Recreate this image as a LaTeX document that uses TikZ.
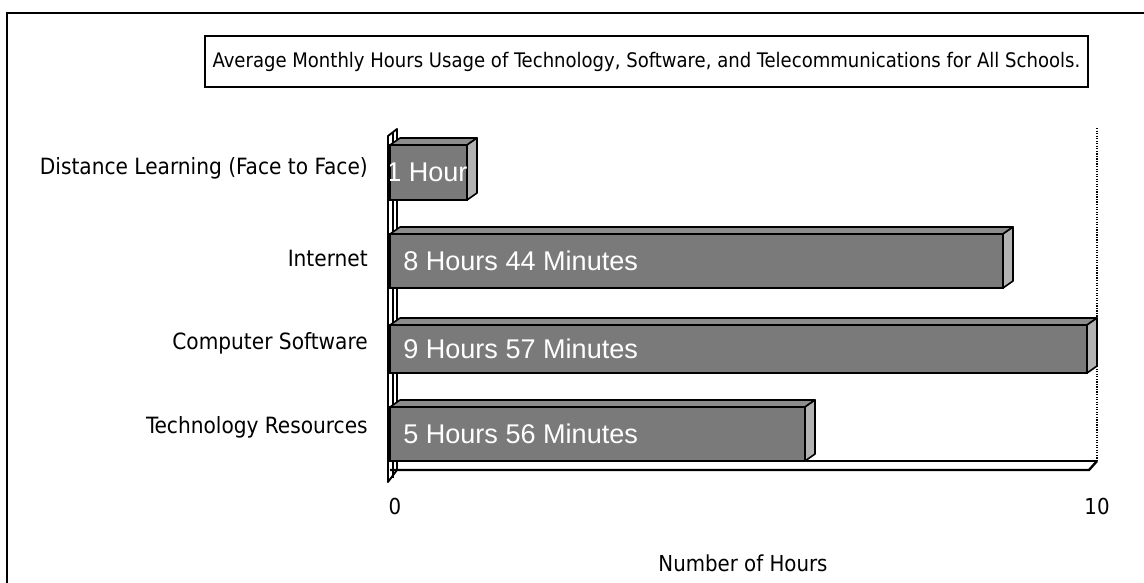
\documentclass[tikz,border=0pt]{standalone}
\usepackage{fontspec}
\setmainfont{Liberation Sans}
\newfontfamily\condfont{DejaVu Sans Condensed}
\usetikzlibrary{calc}
\tikzset{
  frame/.style={line width=2.2pt, line cap=rect},
  titlebox/.style={draw, line width=1.5pt, inner sep=0pt, outer sep=0pt},
  barfront/.style={draw, line width=1.6pt, fill=black!52, inner sep=0pt, outer sep=0pt, rectangle, anchor=north west},
  bartop/.style={draw, line width=1.2pt, fill=black!45, line join=round},
  barside/.style={draw, line width=1.2pt, fill=black!30, line join=round},
  wall/.style={draw, line width=1.4pt, fill=white, line join=round},
  catlab/.style={anchor=east, inner sep=0pt, font=\condfont\fontsize{16.8pt}{18pt}\selectfont},
  inlab/.style={anchor=west, inner sep=0pt, text=white, font=\fontsize{20.3pt}{22pt}\selectfont},
  axlab/.style={inner sep=0pt, font=\condfont\fontsize{16.5pt}{18pt}\selectfont},
  grid/.style={densely dotted, line width=0.9pt},
}
% one bar: name, left x, top y, width, height, label x-offset, label
\newcommand\drawbar[7]{%
  \node[barfront, minimum width=#4*0.75pt, minimum height=#5*0.75pt] (#1) at (#2,#3) {};
  \filldraw[bartop] (#1.north west) -- ++(10,-7) -- ($(#1.north east)+(10,-7)$) -- (#1.north east) -- cycle;
  \filldraw[barside] (#1.north east) -- ($(#1.north east)+(10,-7)$) -- ($(#1.south east)+(10,-7)$) -- (#1.south east) -- cycle;
  \begin{scope}
    \clip (#1.north west) rectangle (#1.south east);
    \node[inlab] (#1l) at ($(#1.west)+(#6,0)$) {#7};
  \end{scope}
}
\begin{document}
\begin{tikzpicture}[x=0.75pt, y=-0.75pt]
  \useasboundingbox (0,0) rectangle (1144,582);
  % outer frame (runs off to the right and bottom)
  \draw[frame] (7,590) -- (7,13) -- (1150,13);
  % title
  \node[titlebox, minimum width=883*0.75pt, minimum height=51*0.75pt, anchor=north west] (title) at (205,36) {};
  \node[inner sep=0pt, font=\condfont\fontsize{15.05pt}{17pt}\selectfont] (titletext) at (title.center) {Average Monthly Hours Usage of Technology, Software, and Telecommunications for All Schools.};
  % chart walls and floor
  \coordinate (wtl) at (388,136);
  \coordinate (wtr) at (397,129);
  \coordinate (wbr) at (397,470);
  \coordinate (wbl) at (388,482);
  \filldraw[wall] (wtl) -- (wtr) -- (wbr) -- (wbl) -- cycle;
  \draw[line width=1pt] (393,132) -- (393,478);
  \coordinate (fl) at (397,461);
  \coordinate (fr) at (1097,461);
  \coordinate (ffl) at (390,470);
  \coordinate (ffr) at (1089,470);
  \draw[line width=1pt] (fl) -- (fr);
  \draw[line width=1.8pt] (ffl) -- (ffr) -- (fr);
  % grid line at 10 hours
  \coordinate (gt) at (1097,128);
  \draw[grid] (gt) -- (fr);
  % bars
  \drawbar{dl}{390}{145}{77}{55}{-4}{1 Hour}
  \drawbar{inet}{390}{234}{613}{54}{13}{8 Hours 44 Minutes}
  \drawbar{soft}{390}{325}{697}{48}{13}{9 Hours 57 Minutes}
  \drawbar{tech}{390}{407}{415}{54}{13}{5 Hours 56 Minutes}
  % category labels
  \node[catlab] (c1) at (368,168) {Distance Learning (Face to Face)};
  \node[catlab] (c2) at (368,258) {Internet};
  \node[catlab] (c3) at (368,343) {Computer Software};
  \node[catlab] (c4) at (368,427) {Technology Resources};
  % axis
  \node[axlab] (t0) at (395,506) {0};
  \node[axlab] (t10) at (1097,506) {10};
  \node[axlab] (axt) at (743,563) {Number of Hours};
\end{tikzpicture}
\end{document}
